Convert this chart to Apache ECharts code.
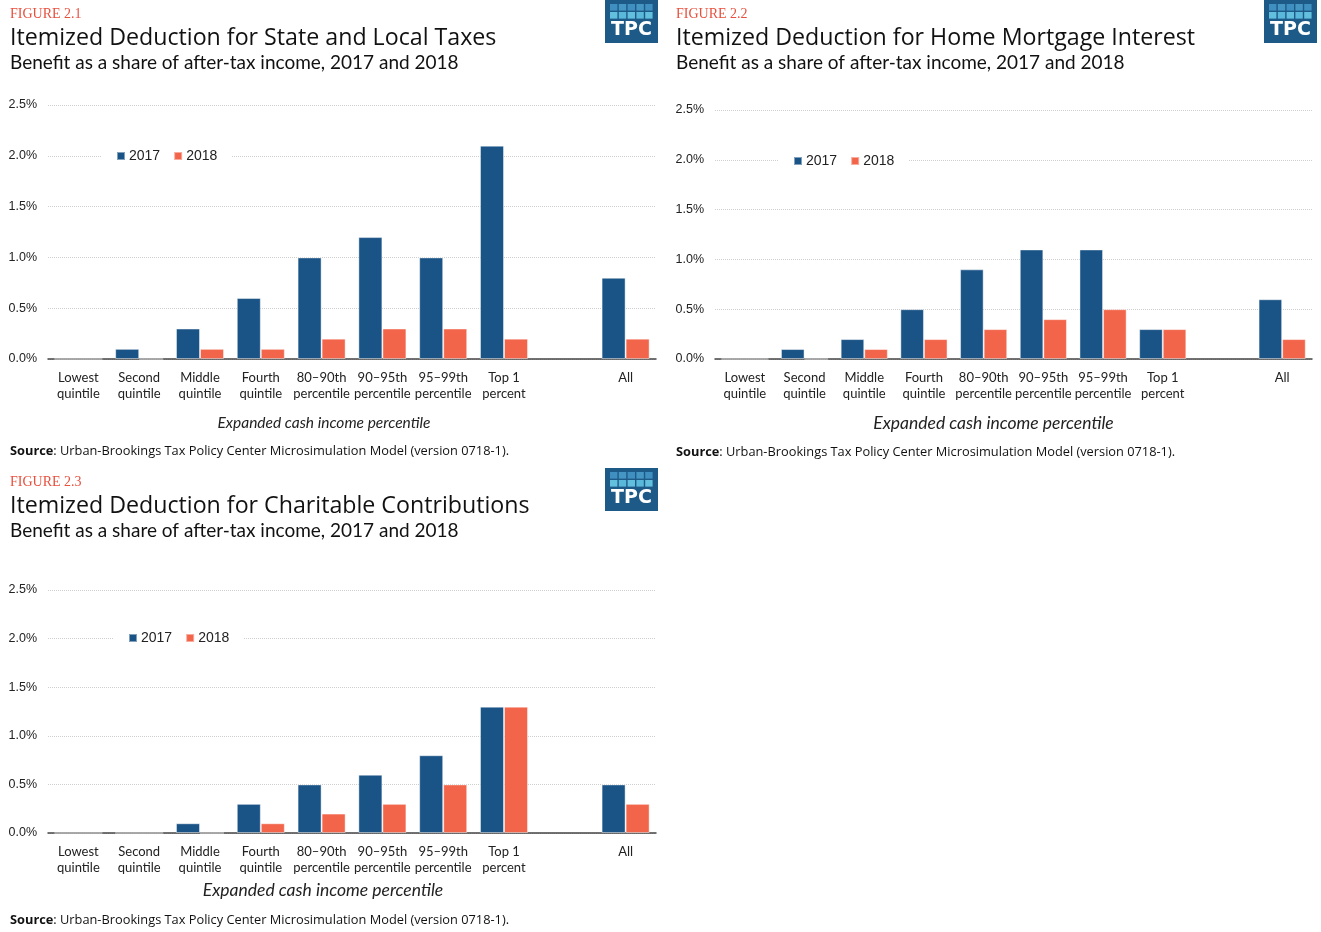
<!DOCTYPE html>
<html><head><meta charset="utf-8">
<script src="https://cdn.jsdelivr.net/npm/echarts@6/dist/echarts.min.js"></script>
<style>html,body{margin:0;padding:0;background:#fff}#c{width:1321px;height:932px}</style>
</head><body><div id="c"></div>
<script>
const categories = ['Lowest\nquintile','Second\nquintile','Middle\nquintile','Fourth\nquintile','80–90th\npercentile','90–95th\npercentile','95–99th\npercentile','Top 1\npercent','','All'];
const seriesNames = ['2017','2018'];
const yTicks = [0, 0.5, 1.0, 1.5, 2.0, 2.5];
const salt2017 = [0, 0.1, 0.3, 0.6, 1.0, 1.2, 1.0, 2.1, null, 0.8];
const salt2018 = [0, 0, 0.1, 0.1, 0.2, 0.3, 0.3, 0.2, null, 0.2];
const mort2017 = [0, 0.1, 0.2, 0.5, 0.9, 1.1, 1.1, 0.3, null, 0.6];
const mort2018 = [0, 0, 0.1, 0.2, 0.3, 0.4, 0.5, 0.3, null, 0.2];
const char2017 = [0, 0, 0.1, 0.3, 0.5, 0.6, 0.8, 1.3, null, 0.5];
const char2018 = [0, 0, 0, 0.1, 0.2, 0.3, 0.5, 1.3, null, 0.3];
const figLabels = ['FIGURE 2.1','FIGURE 2.2','FIGURE 2.3'];
const figTitles = ['Itemized Deduction for State and Local Taxes','Itemized Deduction for Home Mortgage Interest','Itemized Deduction for Charitable Contributions'];
const figSubtitle = 'Benefit as a share of after-tax income, 2017 and 2018';
const xAxisName = 'Expanded cash income percentile';
const sourceText = 'Urban-Brookings Tax Policy Center Microsimulation Model (version 0718-1).';

const BLUE = '#1a5386', ORANGE = '#f2654a';
const FONT = 'Lato';

const panels = [
  {x:0, y:0, logoX:605, grid:{left:48, width:608, top:105, height:254}, leg:{left:102, top:147}, d:[salt2017, salt2018], srcY:450, nameSize:15.5, nameShift:28, nameGap:56},
  {x:666, y:0, logoX:1264, grid:{left:715, width:597, top:110, height:249}, leg:{left:779, top:152}, d:[mort2017, mort2018], srcY:451, nameSize:17.5, nameShift:20, nameGap:55},
  {x:0, y:468, logoX:605, grid:{left:48, width:608, top:590, height:243}, leg:{left:114, top:629}, d:[char2017, char2018], srcY:919, nameSize:17.5, nameShift:29, nameGap:48}
];

const titles = [], grids = [], xAxes = [], yAxes = [], series = [], legends = [], graphics = [];
panels.forEach((p, i) => {
  titles.push({text: figLabels[i], left: p.x + 10, top: p.y + 7, padding:0, textStyle:{fontFamily:'Liberation Serif', fontSize:14, fontWeight:'normal', color:'#e8503e'}});
  titles.push({text: figTitles[i], left: p.x + 10, top: p.y + 27, padding:0, textStyle:{fontFamily:'Open Sans', fontSize:23.2, fontWeight:'normal', color:'#111'}});
  titles.push({text: figSubtitle, left: p.x + 10, top: p.y + 53, padding:0, textStyle:{fontFamily:FONT, fontSize:19, fontWeight:'normal', color:'#111'}});
  titles.push({text: '{b|Source}: ' + sourceText, left: p.x + 10, top: p.srcY - 5, padding:0, textStyle:{fontFamily:'Open Sans', fontSize:12.8, fontWeight:'normal', color:'#111', rich:{b:{fontFamily:'Open Sans', fontSize:12.8, fontWeight:'bold', color:'#111'}}}});
  grids.push(Object.assign({containLabel:false}, p.grid));
  xAxes.push({type:'category', gridIndex:i, data:categories,
    axisLine:{lineStyle:{color:'#444', width:1.5}}, axisTick:{show:false},
    axisLabel:{interval:0, margin:11, fontFamily:FONT, fontSize:13, lineHeight:16, color:'#222'},
    name: xAxisName, nameLocation:'middle', nameGap:p.nameGap,
    nameTextStyle:{fontFamily:FONT, fontSize:p.nameSize, fontStyle:'italic', color:'#222', padding:[0, p.nameShift*2, 0, 0]}});
  yAxes.push({type:'value', gridIndex:i, min:0, max:2.5, interval:0.5,
    axisLine:{show:false}, axisTick:{show:false},
    axisLabel:{margin:11, fontFamily:'Liberation Sans', fontSize:12.5, color:'#222', formatter: v => v.toFixed(1) + '%'},
    splitLine:{lineStyle:{color:'#cfcfcf', type:'dotted', width:1}}});
  seriesNames.forEach((n, k) => {
    series.push({type:'bar', name:n, xAxisIndex:i, yAxisIndex:i, data:p.d[k],
      barGap:'0%', barCategoryGap:'21%',
      itemStyle:{color: k === 0 ? BLUE : ORANGE, borderColor:'rgba(255,255,255,0.45)', borderWidth:1},
      emphasis:{disabled:true}});
  });
  legends.push({data:seriesNames, left:p.leg.left, top:p.leg.top, orient:'horizontal',
    icon:'rect', itemWidth:8, itemHeight:8, itemGap:13, backgroundColor:'#fff', padding:[2,14],
    textStyle:{fontFamily:'Liberation Sans', fontSize:14, color:'#222', padding:[0,0,0,-1]}});
  // TPC logo
  const lx = p.logoX, ly = p.y;
  const kids = [{type:'rect', shape:{x:0, y:0, width:53, height:43}, style:{fill:'#1e5a87'}}];
  const sq = [['#3f8fc0','#4696c4','#3f8fc0','#4696c4','#3f8fc0'],['#62c0de','#5ab8da','#62c0de','#5ab8da','#62c0de']];
  sq.forEach((row, r) => row.forEach((c, j) => kids.push({type:'rect', shape:{x:5 + j*8.8, y:4 + r*8, width:7.4, height:6.6}, style:{fill:c}})));
  kids.push({type:'text', style:{text:'TPC', x:26.5, y:30, align:'center', verticalAlign:'middle', fontFamily:'DejaVu Sans', fontWeight:'bold', fontSize:19, fill:'#fff'}});
  graphics.push({type:'group', left:lx, top:ly, children:kids});
});

const chart = echarts.init(document.getElementById('c'), null, {renderer:'canvas'});
chart.setOption({
  animation:false, backgroundColor:'#fff',
  title:titles, grid:grids, xAxis:xAxes, yAxis:yAxes, series:series, legend:legends, graphic:graphics
});
</script></body></html>
